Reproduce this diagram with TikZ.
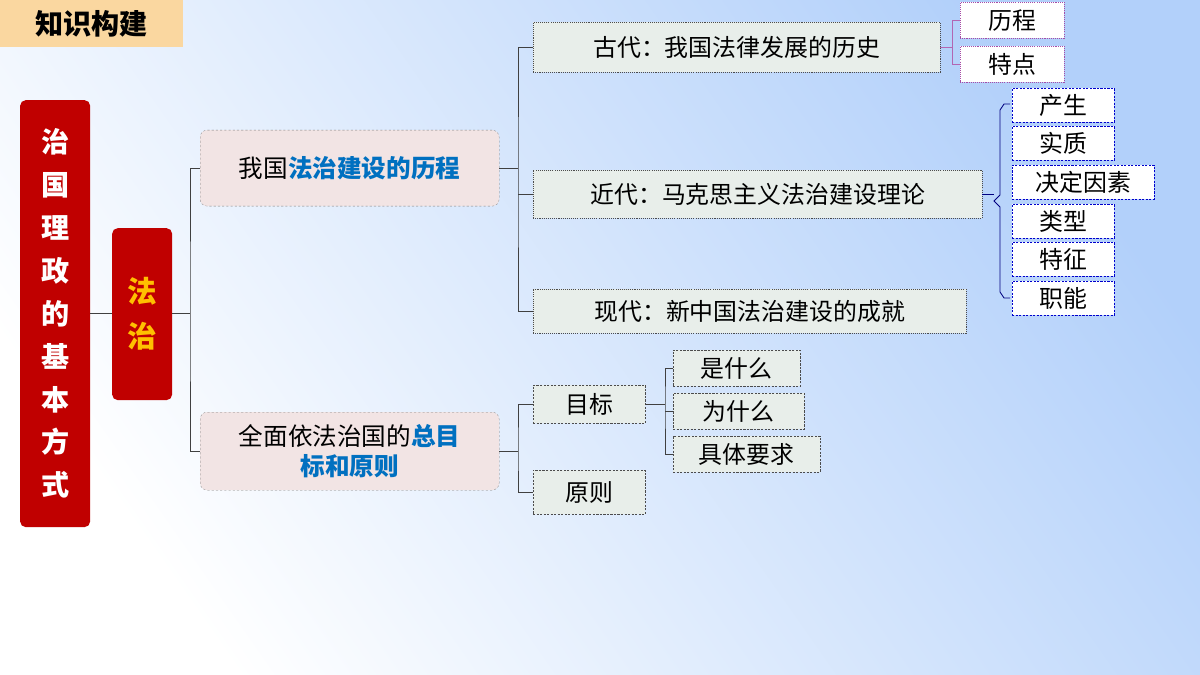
\documentclass[tikz,border=0pt]{standalone}
\usepackage{fontspec}
\setmainfont{Noto Sans CJK SC}
\definecolor{dred}{RGB}{192,0,0}
\definecolor{gold}{RGB}{255,192,0}
\definecolor{tblue}{RGB}{0,112,192}
\definecolor{pinkf}{RGB}{242,228,228}
\definecolor{greenf}{RGB}{232,238,234}
\definecolor{bgblue}{RGB}{178,208,250}
\definecolor{tagf}{RGB}{250,215,160}
\tikzset{
 px/.style={x=0.05cm,y=-0.05cm},
 redbox/.style={draw=none,fill=dred,rounded corners=8pt},
 pinkbox/.style={draw=gray,dashed,fill=pinkf,rounded corners=10pt},
 greenbox/.style={draw=black!70,dash pattern=on 1.5pt off 1.5pt,fill=greenf},
 purpbox/.style={draw=violet!70,dash pattern=on 1.5pt off 1.5pt,fill=white},
 bluebox/.style={draw=blue!80!black,densely dashed,fill=white},
 darkbox/.style={draw=black!70,densely dashed,fill=greenf},
 conn/.style={draw=black!75,line width=1pt},
 big/.style={font=\fontsize{35}{42}\selectfont},
 mid/.style={font=\fontsize{34}{40}\selectfont},
}
\newcommand{\bl}[1]{\textcolor{tblue}{\bfseries #1}}
\begin{document}
\begin{tikzpicture}[px]
\useasboundingbox (0,0) rectangle (1200,675);
\shade[left color=white,right color=bgblue,shading angle=125] (0,0) rectangle (1200,675);
\node[fill=tagf,minimum width=183*0.05cm,minimum height=47*0.05cm,anchor=north west,font=\fontsize{40}{44}\selectfont\bfseries] (tag) at (0,0) {知识构建};
\node[redbox,minimum width=70*0.05cm,minimum height=427*0.05cm,anchor=north west,text width=1.6cm,align=center,text=white,font=\fontsize{40}{61}\selectfont\bfseries] (main) at (20,100) {治\\国\\理\\政\\的\\基\\本\\方\\式};
\node[redbox,minimum width=60*0.05cm,minimum height=172*0.05cm,anchor=north west,align=center,text=gold,font=\fontsize{42}{64}\selectfont\bfseries] (fz) at (112,228) {法\\治};
\draw[conn] (main.east |- 0,313) -- (fz.west |- 0,313);
\node[pinkbox,minimum width=299*0.05cm,minimum height=76*0.05cm,anchor=north west,big] (A) at (200,130) {我国\bl{法治建设的历程}};
\node[pinkbox,minimum width=299*0.05cm,minimum height=78*0.05cm,anchor=north west,big,align=center] (B) at (200,412) {全面依法治国的\bl{总目}\\\bl{标和原则}};
\coordinate (b1) at (190,313);
\draw[conn] (fz.east |- b1) -- (b1);
\draw[conn] (A.west) -| (b1) |- (B.west);
\node[greenbox,minimum width=407*0.05cm,minimum height=50*0.05cm,anchor=north west,mid] (G) at (533,22) {古代：我国法律发展的历史};
\node[greenbox,minimum width=449*0.05cm,minimum height=48*0.05cm,anchor=north west,mid] (J) at (533,170) {近代：马克思主义法治建设理论};
\node[greenbox,minimum width=433*0.05cm,minimum height=44*0.05cm,anchor=north west,mid] (X) at (533,289) {现代：新中国法治建设的成就};
\coordinate (b2) at (518,185);
\draw[conn] (A.east) -- (A.east -| b2);
\draw[conn] (G.west) -| (b2) |- (X.west);
\draw[conn] (J.west -| b2) -- (J.west);
\node[purpbox,minimum width=104*0.05cm,minimum height=36*0.05cm,anchor=north west,mid] (g1) at (960,2) {历程};
\node[purpbox,minimum width=104*0.05cm,minimum height=36*0.05cm,anchor=north west,mid] (g2) at (960,46) {特点};
\coordinate (b3) at (952,47);
\draw[conn,draw=violet!60] (G.east) -- (G.east -| b3);
\draw[conn,draw=violet!60] (g1.west) -| (b3) |- (g2.west);
\foreach \n/\t/\y/\w in {j1/产生/88/102,j2/实质/126/102,j3/决定因素/165/142,j4/类型/204/102,j5/特征/242/102,j6/职能/281/102}{
 \node[bluebox,minimum width=\w*0.05cm,minimum height=34*0.05cm,anchor=north west,mid] (\n) at (1012,\y) {\t};
}
\coordinate (b4) at (994,201);
\draw[conn,draw=blue!50!black,line width=1.2pt] (1010,104) -- (1004,104) -- (1000,110) -- (1000,195) -- (b4) -- (1000,207) -- (1000,292) -- (1004,298) -- (1010,298);
\draw[conn,draw=blue!50!black] (J.east) -- (J.east -| b4);
\node[darkbox,minimum width=112*0.05cm,minimum height=38*0.05cm,anchor=north west,mid] (M) at (533,385) {目标};
\node[darkbox,minimum width=112*0.05cm,minimum height=44*0.05cm,anchor=north west,mid] (Y) at (533,470) {原则};
\coordinate (b5) at (518,450);
\draw[conn] (B.east) -- (B.east -| b5);
\draw[conn] (M.west) -| (b5) |- (Y.west);
\node[darkbox,minimum width=127*0.05cm,minimum height=36*0.05cm,anchor=north west,mid] (m1) at (673,350) {是什么};
\node[darkbox,minimum width=131*0.05cm,minimum height=36*0.05cm,anchor=north west,mid] (m2) at (673,393) {为什么};
\node[darkbox,minimum width=147*0.05cm,minimum height=36*0.05cm,anchor=north west,mid] (m3) at (673,436) {具体要求};
\coordinate (b6) at (665,404);
\draw[conn] (M.east) -- (M.east -| b6);
\draw[conn] (m1.west) -| (b6) |- (m3.west);
\draw[conn] (m2.west -| b6) -- (m2.west);
\end{tikzpicture}
\end{document}
